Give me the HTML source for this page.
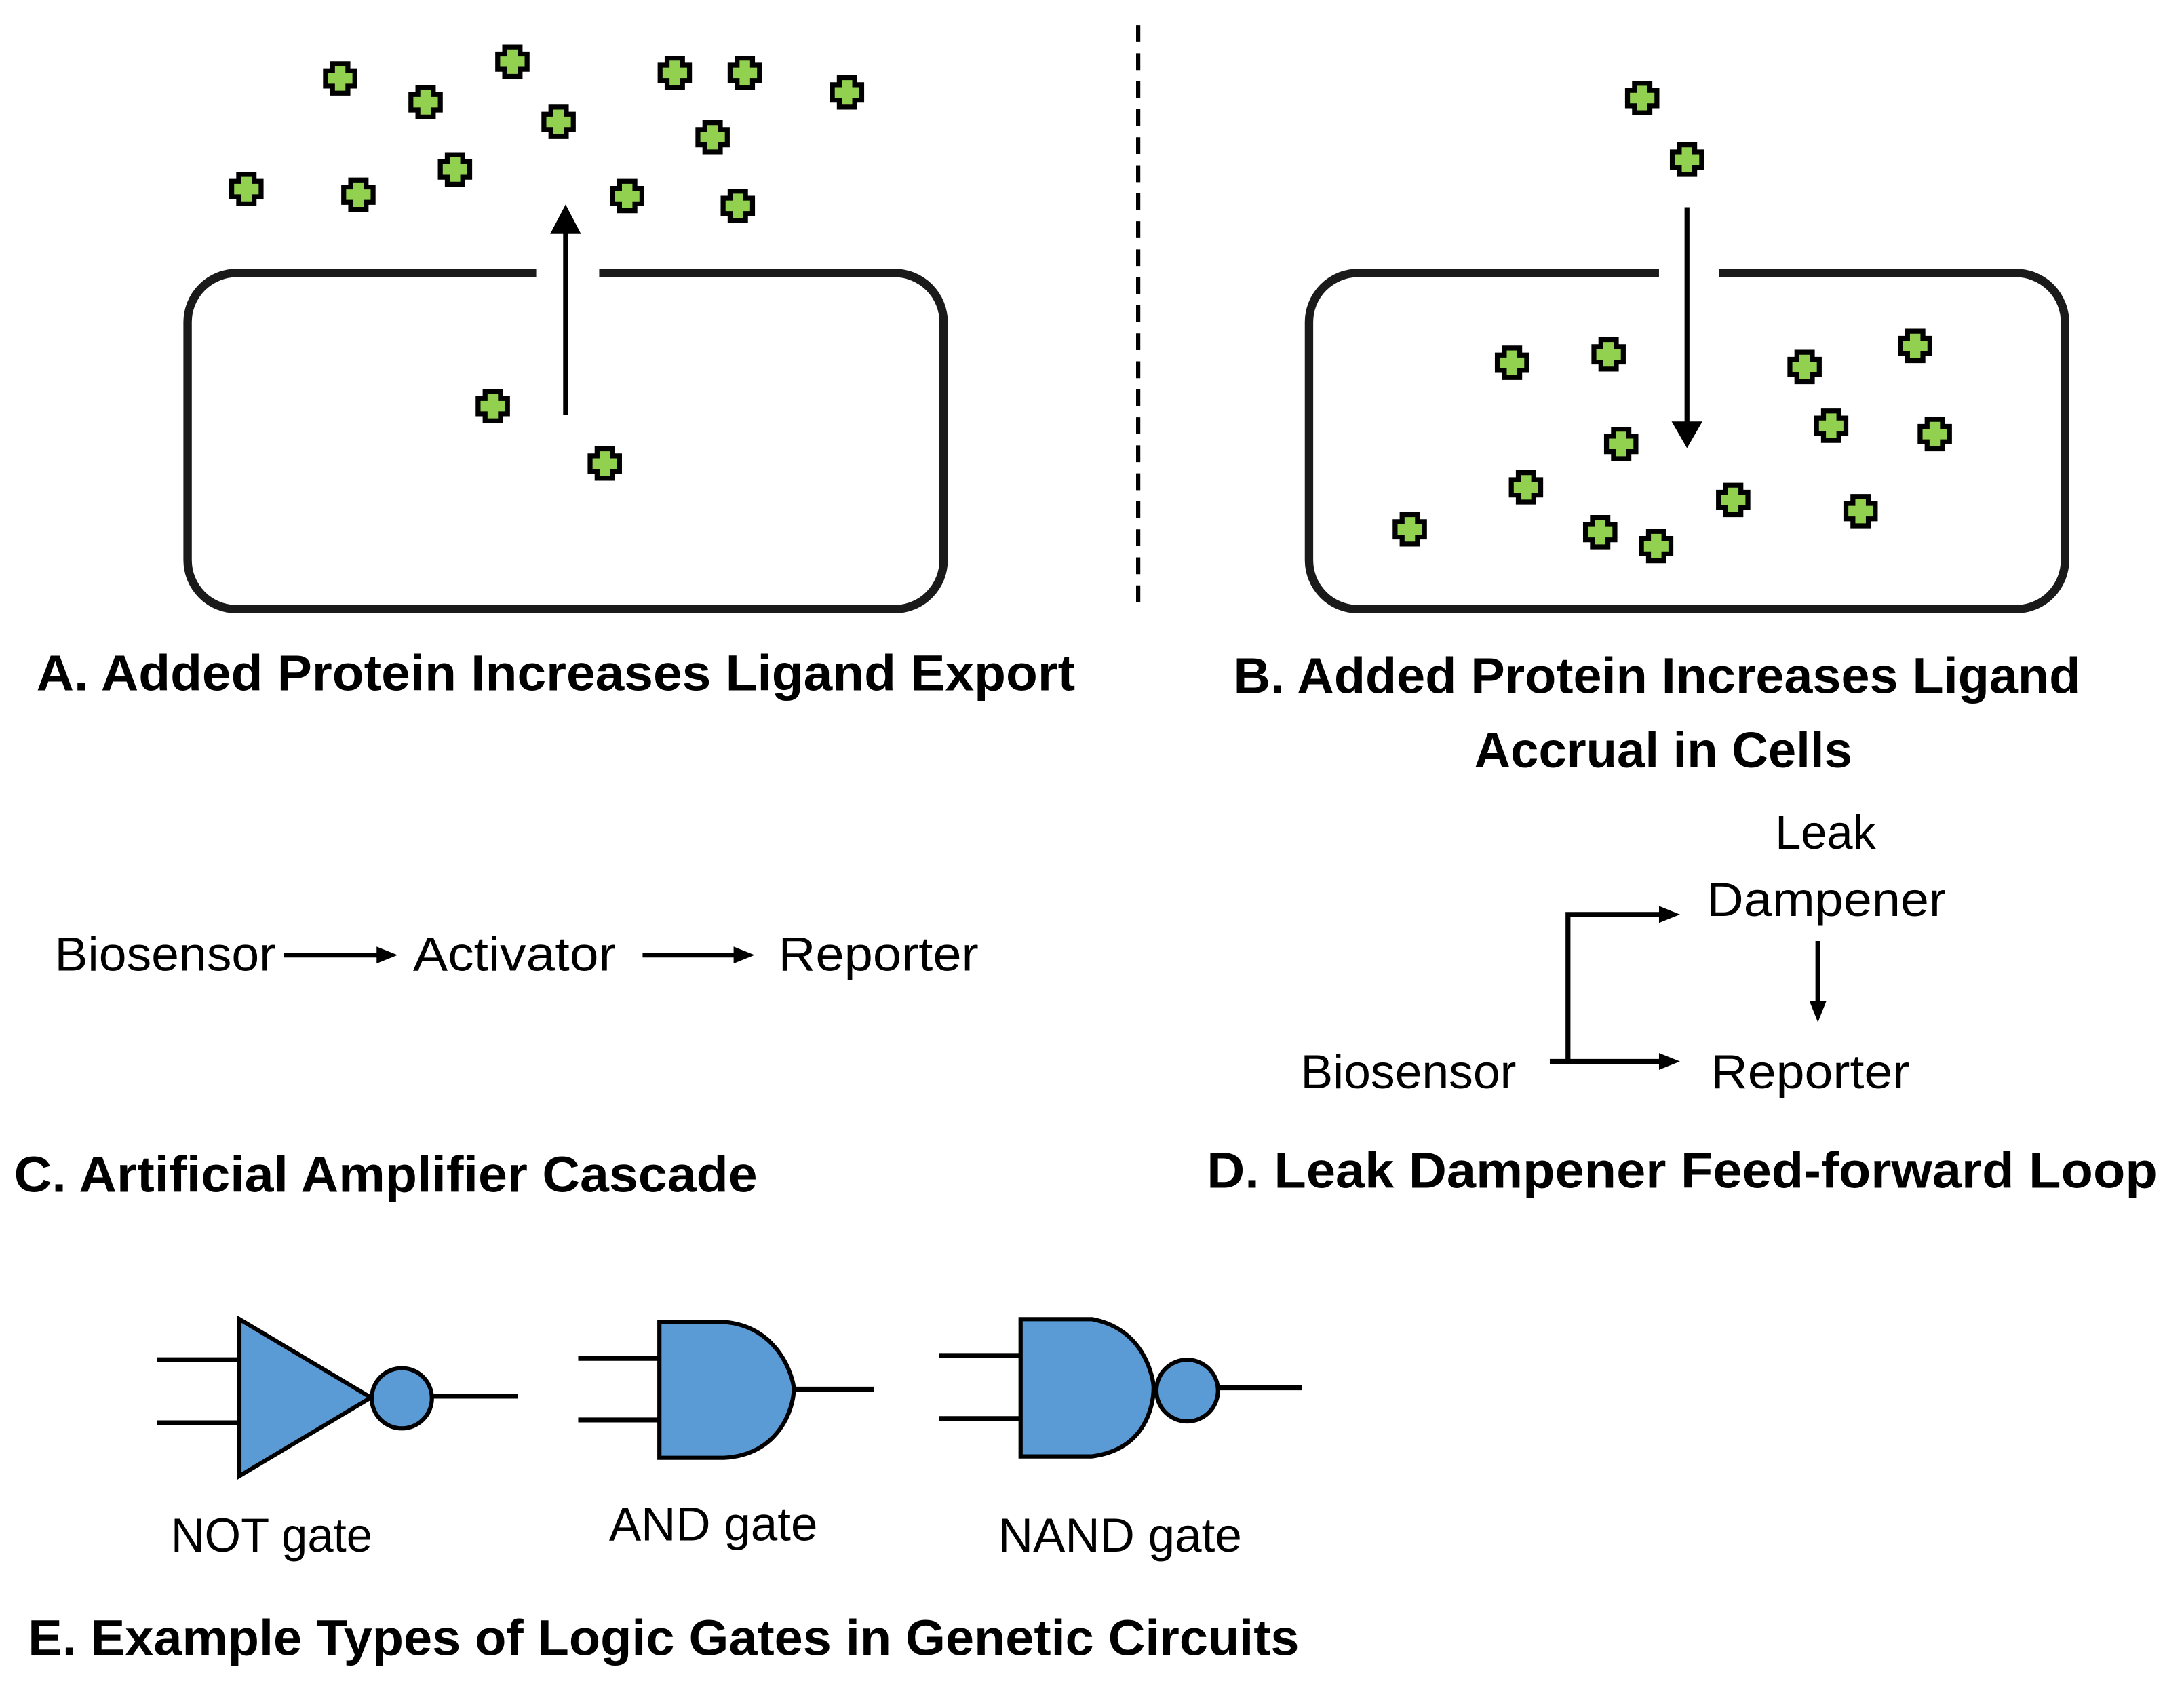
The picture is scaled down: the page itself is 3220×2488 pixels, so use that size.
<!DOCTYPE html>
<html><head><meta charset="utf-8"><style>html,body{margin:0;padding:0;background:#fff}svg{display:block}</style></head><body>
<svg width="3220" height="2488" viewBox="0 0 1560 1205.4" preserveAspectRatio="none" xmlns="http://www.w3.org/2000/svg" font-family="Liberation Sans, sans-serif">
<defs>
<path id="p" d="M-5.5,-10.5H5.5V-5.5H10.5V5.5H5.5V10.5H-5.5V5.5H-10.5V-5.5H-5.5Z" fill="#92d050" stroke="#000" stroke-width="3.5"/>
</defs>
<g fill="none" stroke="#1a1a1a" stroke-width="6">
<path d="M383,195H169A35,35 0 0 0 134,230V400A35,35 0 0 0 169,435H639A35,35 0 0 0 674,400V230A35,35 0 0 0 639,195H428"/>
<path d="M1185,195H970A35,35 0 0 0 935,230V400A35,35 0 0 0 970,435H1440A35,35 0 0 0 1475,400V230A35,35 0 0 0 1440,195H1228"/>
</g>
<line x1="404" y1="296" x2="404" y2="166" stroke="#000" stroke-width="3.5"/>
<path d="M393,167L404,146L415,167Z" fill="#000"/>
<line x1="1205" y1="148" x2="1205" y2="302" stroke="#000" stroke-width="3.5"/>
<path d="M1194,301L1205,320L1216,301Z" fill="#000"/>
<line x1="813" y1="18" x2="813" y2="432" stroke="#000" stroke-width="3" stroke-dasharray="12,8"/>
<g>
<use href="#p" x="243" y="56"/><use href="#p" x="366" y="44"/><use href="#p" x="304" y="73"/><use href="#p" x="399" y="87"/><use href="#p" x="482" y="52"/><use href="#p" x="532" y="52"/><use href="#p" x="605" y="66"/><use href="#p" x="509" y="98"/><use href="#p" x="325" y="121"/><use href="#p" x="176" y="135"/><use href="#p" x="256" y="139"/><use href="#p" x="448" y="140"/><use href="#p" x="527" y="147"/><use href="#p" x="352" y="290"/><use href="#p" x="432" y="331"/>
<use href="#p" x="1173" y="70"/><use href="#p" x="1205" y="114"/><use href="#p" x="1080" y="259"/><use href="#p" x="1149" y="253"/><use href="#p" x="1289" y="262"/><use href="#p" x="1368" y="247"/><use href="#p" x="1308" y="304"/><use href="#p" x="1382" y="310"/><use href="#p" x="1158" y="317"/><use href="#p" x="1090" y="348"/><use href="#p" x="1007" y="378"/><use href="#p" x="1143" y="380"/><use href="#p" x="1183" y="390"/><use href="#p" x="1238" y="357"/><use href="#p" x="1329" y="365"/>
</g>
<g font-weight="bold" font-size="36" fill="#000">
<text x="26" y="493" textLength="742" lengthAdjust="spacingAndGlyphs">A. Added Protein Increases Ligand Export</text>
<text x="881" y="495" textLength="605" lengthAdjust="spacingAndGlyphs">B. Added Protein Increases Ligand</text>
<text x="1053" y="548" textLength="270" lengthAdjust="spacingAndGlyphs">Accrual in Cells</text>
<text x="10" y="851" textLength="531" lengthAdjust="spacingAndGlyphs">C. Artificial Amplifier Cascade</text>
<text x="862" y="848" textLength="679" lengthAdjust="spacingAndGlyphs">D. Leak Dampener Feed-forward Loop</text>
<text x="20" y="1182" textLength="908" lengthAdjust="spacingAndGlyphs">E. Example Types of Logic Gates in Genetic Circuits</text>
</g>
<g font-size="34" fill="#000">
<text x="39" y="693" textLength="158" lengthAdjust="spacingAndGlyphs">Biosensor</text>
<text x="295" y="693" textLength="145" lengthAdjust="spacingAndGlyphs">Activator</text>
<text x="556" y="693" textLength="143" lengthAdjust="spacingAndGlyphs">Reporter</text>
<text x="1268" y="606" textLength="72" lengthAdjust="spacingAndGlyphs">Leak</text>
<text x="1219" y="654" textLength="171" lengthAdjust="spacingAndGlyphs">Dampener</text>
<text x="929" y="777" textLength="154" lengthAdjust="spacingAndGlyphs">Biosensor</text>
<text x="1222" y="777" textLength="142" lengthAdjust="spacingAndGlyphs">Reporter</text>
<text x="122" y="1108" textLength="144" lengthAdjust="spacingAndGlyphs">NOT gate</text>
<text x="435" y="1100" textLength="149" lengthAdjust="spacingAndGlyphs">AND gate</text>
<text x="713" y="1108" textLength="174" lengthAdjust="spacingAndGlyphs">NAND gate</text>
</g>
<g stroke="#000" stroke-width="3.5" fill="none">
<line x1="203" y1="682" x2="270" y2="682"/>
<line x1="459" y1="682" x2="525" y2="682"/>
<line x1="1298.5" y1="672" x2="1298.5" y2="716"/>
<line x1="1107" y1="758" x2="1186" y2="758"/>
<path d="M1120,758V653H1186"/>
<line x1="112" y1="971" x2="171" y2="971"/><line x1="112" y1="1016" x2="171" y2="1016"/><line x1="308" y1="997" x2="370" y2="997"/>
<line x1="413" y1="970" x2="471" y2="970"/><line x1="413" y1="1014" x2="471" y2="1014"/><line x1="567" y1="992" x2="624" y2="992"/>
<line x1="671" y1="968" x2="729" y2="968"/><line x1="671" y1="1013" x2="729" y2="1013"/><line x1="870" y1="991" x2="930" y2="991"/>
</g>
<g fill="#000">
<path d="M269,676L284,682L269,688Z"/><path d="M524,676L539,682L524,688Z"/>
<path d="M1292.5,715L1298.5,730L1304.5,715Z"/>
<path d="M1185,752L1200,758L1185,764Z"/><path d="M1185,647L1200,653L1185,659Z"/>
</g>
<g fill="#5b9bd5" stroke="#000" stroke-width="3">
<path d="M171,942L171,1054L265,998Z"/>
<circle cx="287" cy="998.5" r="21.5"/>
<path d="M471,944H517C557,947 567,985 567,992C567,1005 557,1039 517,1041H471Z"/>
<path d="M729,942H780C818,949 824,985 824,991C824,1004 818,1035 780,1040H729Z"/>
<circle cx="848" cy="993" r="22"/>
</g>
</svg>
</body></html>
